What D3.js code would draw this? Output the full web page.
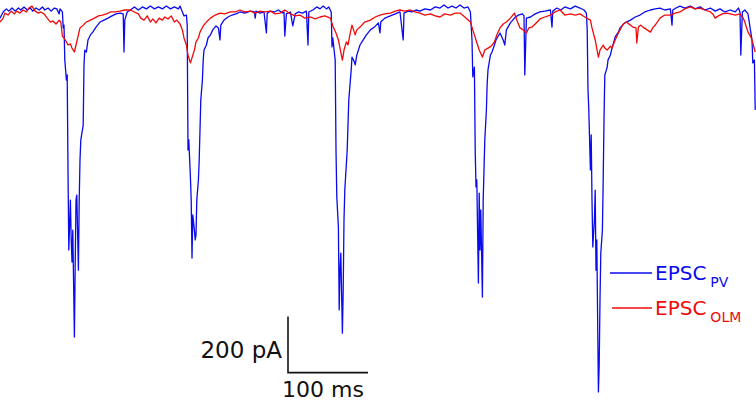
<!DOCTYPE html>
<html>
<head>
<meta charset="utf-8">
<script src="https://cdn.jsdelivr.net/npm/d3@7"></script>
<style>
	body { margin: 0; background: #fff; }
	svg { display: block; font-family: "DejaVu Sans", Verdana, sans-serif; }
</style>
</head>
<body>
<svg id="container"></svg>
<script>
// recorded traces, [time in ms, current in pA]
const pvTrace = [
	[0,-29],[4,-7],[8,4],[11,-4],[15,7],[19,-4],[23,7],[26,0],[30,11],[34,0],[38,7],[41,-4],[45,7],[49,0],[53,11],[56,0],[60,7],[64,-4],[68,7],[71,4],[74,-14],[75,4],[78,-7],
	[79,-64],[80,-54],[81,-179],[83,-250],[84,-232],[85,-571],[86,-857],[88,-679],[89,-821],[90,-900],[91,-786],[93,-1168],[94,-911],[95,-679],[96,-661],[98,-929],[99,-679],
	[100,-536],[101,-464],[103,-429],[104,-411],[105,-196],[106,-143],[108,-150],[110,-107],[113,-89],[116,-79],[120,-61],[125,-43],[130,-36],[135,-29],[140,-21],[145,-14],
	[150,-11],[154,-14],[155,-150],[156,-36],[159,-7],[163,0],[168,11],[173,0],[178,11],[183,4],[188,14],[193,4],[198,11],[203,4],[208,14],[213,4],[218,11],[223,4],[225,14],
	[228,-7],[230,-21],[233,-18],[234,-54],[235,-500],[236,-464],[238,-596],[239,-679],[240,-886],[241,-732],[243,-786],[244,-821],[245,-804],[246,-679],[248,-607],[249,-536],
	[250,-429],[251,-321],[253,-250],[254,-179],[255,-143],[258,-125],[260,-100],[263,-89],[266,-71],[270,-57],[273,-64],[275,-107],[276,-54],[280,-36],[285,-25],[290,-18],
	[295,-14],[300,-7],[306,-11],[313,-4],[318,-7],[319,-29],[320,-4],[325,-11],[330,-7],[333,-82],[334,-11],[338,-4],[343,-7],[348,0],[353,-11],[355,-7],[356,-93],[358,-14],
	[363,-7],[366,-57],[369,-14],[373,-7],[378,-11],[383,-4],[385,-125],[386,-7],[391,0],[396,11],[400,4],[404,14],[408,4],[411,11],[414,-7],
	[415,-132],[416,-100],[419,-179],[420,-500],[421,-668],[423,-775],[424,-1071],[425,-929],[426,-868],[428,-1154],[429,-1000],[430,-750],[431,-643],[434,-500],[436,-321],
	[439,-214],[440,-168],[443,-186],[444,-196],[446,-161],[450,-125],[454,-107],[458,-89],[463,-71],[468,-61],[473,-46],[475,-82],[476,-43],[481,-29],[488,-21],[494,-14],
	[500,-7],[504,-107],[505,-11],[510,-4],[515,-7],[520,0],[525,-4],[531,4],[538,0],[544,11],[550,7],[555,18],[560,7],[565,14],[570,7],[575,18],[580,7],[585,11],[588,-7],
	[590,-107],[591,-239],[593,-204],[594,-500],[595,-632],[596,-607],[598,-975],[599,-654],[600,-857],[601,-714],[603,-1025],[604,-679],[605,-571],[606,-464],[608,-357],
	[609,-261],[610,-214],[613,-161],[615,-150],[618,-125],[620,-107],[625,-82],[629,-107],[631,-125],[633,-71],[638,-46],[643,-29],[648,-18],[653,-14],[655,-21],[656,-232],
	[658,-29],[663,-25],[669,-14],[675,-7],[681,-4],[688,0],[690,-61],[691,-4],[696,7],[701,0],[706,11],[713,4],[719,14],[725,7],[730,0],[733,-11],
	[734,-71],[735,-286],[736,-357],[738,-571],[739,-446],[740,-679],[741,-846],[743,-750],[744,-643],[745,-929],[746,-821],[748,-1364],[749,-1268],[750,-1036],[751,-868],
	[753,-786],[754,-607],[755,-393],[756,-232],[758,-214],[759,-204],[760,-179],[763,-161],[765,-136],[769,-96],[773,-79],[775,-64],[781,-46],[788,-36],[794,-25],[800,-18],
	[806,-7],[813,0],[819,4],[825,7],[831,0],[838,4],[840,-54],[841,0],[845,7],[850,14],[856,7],[863,14],[869,4],[875,11],[881,0],[888,7],[894,-4],[900,4],[906,-7],[913,0],
	[919,-7],[923,7],[925,-7],[926,-161],[928,-7],[931,0],[935,-14],[938,-71],[940,-107],[941,-189],[943,-179],[944,-357]
];

const olmTrace = [
	[0,-43],[4,-29],[6,-11],[10,-18],[14,-4],[18,-14],[21,-4],[25,-11],[29,0],[33,-7],[36,7],[40,14],[44,-4],[48,-11],[51,-7],[55,-14],[59,-29],[63,-43],[66,-39],[70,-50],
	[74,-36],[76,-43],[78,-93],[80,-100],[83,-114],[85,-125],[88,-121],[90,-136],[93,-150],[95,-125],[98,-89],[100,-64],[104,-54],[108,-43],[113,-36],[118,-29],[123,-21],
	[128,-18],[133,-14],[138,-7],[144,-7],[150,-4],[156,0],[163,0],[168,-7],[173,-14],[176,-29],[180,-36],[184,-21],[188,-43],[191,-32],[195,-46],[199,-29],[203,-36],
	[206,-25],[210,-32],[214,-21],[218,-43],[221,-36],[225,-50],[228,-71],[230,-100],[233,-125],[235,-161],[238,-189],[240,-171],[243,-143],[245,-114],[248,-100],[250,-79],
	[254,-57],[258,-43],[263,-29],[269,-18],[275,-11],[281,-14],[288,-7],[294,-7],[300,0],[306,-7],[313,-4],[319,-11],[325,-4],[331,-7],[338,-4],[344,-14],[350,-11],[356,0],
	[363,-14],[369,-21],[375,-18],[381,-29],[388,-25],[394,-32],[400,-25],[406,-21],[413,-29],[416,-57],[420,-82],[423,-107],[425,-136],[428,-179],[430,-143],[433,-114],
	[435,-125],[438,-79],[440,-54],[444,-89],[446,-71],[450,-61],[456,-43],[463,-36],[469,-25],[475,-18],[481,-14],[488,-11],[494,-4],[500,0],[506,-4],[513,0],[519,-7],
	[525,-11],[531,-18],[538,-14],[544,-21],[550,-25],[556,-14],[563,-18],[569,-11],[575,-11],[581,-25],[588,-43],[591,-71],[595,-107],[599,-143],[603,-168],[606,-143],
	[610,-136],[614,-129],[618,-114],[621,-89],[625,-64],[629,-50],[633,-43],[638,-29],[643,-11],[646,-36],[650,-64],[654,-71],[658,-82],[661,-64],[665,-61],[669,-50],
	[675,-32],[681,-25],[688,-18],[694,-7],[700,0],[706,-18],[713,-14],[719,-18],[725,-14],[731,-25],[738,-36],[740,-64],[744,-107],[748,-168],[750,-143],[754,-125],
	[756,-136],[759,-143],[763,-129],[765,-136],[769,-107],[773,-82],[775,-71],[779,-50],[783,-43],[788,-54],[791,-61],[795,-64],[796,-118],[798,-61],[801,-54],[805,-64],
	[809,-71],[813,-79],[816,-64],[820,-50],[825,-29],[831,-18],[838,-18],[844,-11],[850,-7],[856,4],[863,11],[869,4],[875,7],[881,0],[888,-7],[891,-14],[894,-29],[898,-21],
	[903,-14],[908,-11],[913,-14],[919,-18],[925,-14],[929,-29],[931,-43],[935,-79],[938,-93],[940,-107],[944,-150]
];

const seriesNames = ["PV", "OLM"];
const seriesColors = ["#0a0aef", "#f00a0a"];

// scale bar values
const barTime = 100;   // ms
const barCurrent = 200; // pA
const barOrigin = [360, -1295]; // ms, pA (corner of the bar)

const width = 756, height = 403;

const svg = d3.select("#container")
	.attr("width", width)
	.attr("height", height);

// 100 ms = 80 px, 200 pA = 56 px
const x = d3.scaleLinear().domain([0, 945]).range([0, 756]);
const y = d3.scaleLinear().domain([0, -1400]).range([10, 402]);

const line = d3.line()
	.x(d => x(d[0]))
	.y(d => y(d[1]));

// draw traces, PV below, OLM on top
[pvTrace, olmTrace].forEach((trace, i) => {
	svg.append("path")
		.datum(trace)
		.attr("fill", "none")
		.attr("stroke", seriesColors[i])
		.attr("stroke-width", 1.3)
		.attr("stroke-linejoin", "round")
		.attr("d", line);
});

// scale bar
const sb = svg.append("g").attr("class", "scalebar");
sb.append("path")
	.attr("fill", "none")
	.attr("stroke", "#111")
	.attr("stroke-width", 1.6)
	.attr("d", d3.line()([
		[x(barOrigin[0]), y(barOrigin[1] + barCurrent)],
		[x(barOrigin[0]), y(barOrigin[1])],
		[x(barOrigin[0] + barTime), y(barOrigin[1])]
	]));

sb.append("text")
	.attr("x", x(barOrigin[0]) - 6)
	.attr("y", y(barOrigin[1]) - 15)
	.attr("text-anchor", "end")
	.attr("font-size", 23)
	.attr("fill", "#111")
	.text(barCurrent + " pA");

sb.append("text")
	.attr("x", x(barOrigin[0]) - 6)
	.attr("y", y(barOrigin[1]) + 24)
	.attr("font-size", 22)
	.attr("fill", "#111")
	.text(barTime + " ms");

// legend
const legend = svg.append("g").attr("transform", "translate(610,273)");
seriesNames.forEach((name, i) => {
	const g = legend.append("g").attr("transform", "translate(0," + (i * 35) + ")");
	g.append("line")
		.attr("x1", i ? 2 : 0).attr("x2", 42)
		.attr("y1", 0).attr("y2", 0)
		.attr("stroke", seriesColors[i])
		.attr("stroke-width", 1.5);
	const t = g.append("text")
		.attr("x", 45)
		.attr("y", 7)
		.attr("font-size", 20)
		.attr("fill", seriesColors[i]);
	t.append("tspan").text("EPSC");
	t.append("tspan")
		.attr("dx", 4)
		.attr("dy", 7)
		.attr("font-size", 14)
		.text(name);
});
</script>
</body>
</html>
